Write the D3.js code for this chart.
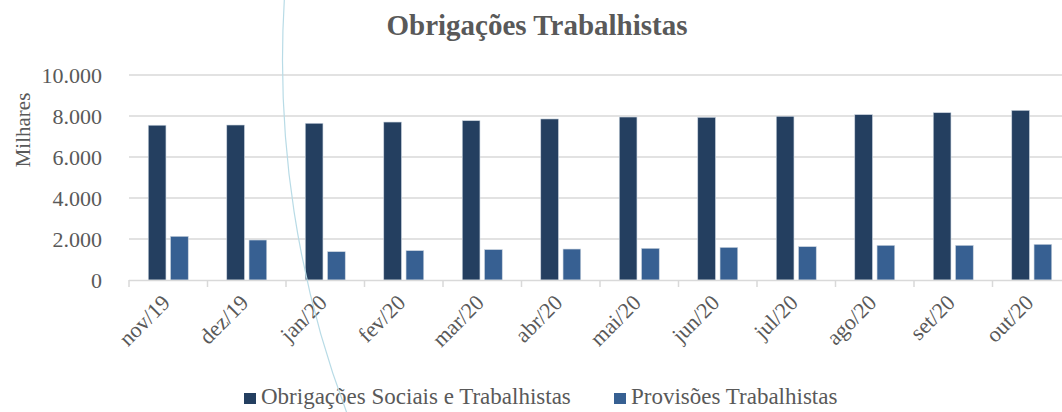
<!DOCTYPE html>
<html>
<head>
<meta charset="utf-8">
<script src="https://cdn.jsdelivr.net/npm/d3@7"></script>
<style>
  html, body { margin: 0; padding: 0; background: #ffffff; }
  svg { display: block; }
  text { font-family: "Liberation Serif", "DejaVu Serif", serif; }
</style>
</head>
<body>
<div id="chart"></div>
<script>
const categories = ["nov/19","dez/19","jan/20","fev/20","mar/20","abr/20","mai/20","jun/20","jul/20","ago/20","set/20","out/20"];
const seriesNames = ["Obrigações Sociais e Trabalhistas", "Provisões Trabalhistas"];
const obrigacoes = [7550, 7560, 7645, 7705, 7770, 7855, 7950, 7935, 7985, 8065, 8160, 8275];
const provisoes  = [2130, 1950, 1380, 1430, 1480, 1510, 1545, 1590, 1625, 1690, 1690, 1740];
const yTicks = [0, 2000, 4000, 6000, 8000, 10000];
const colors = ["#243F60", "#376092"];
const title = "Obrigações Trabalhistas";
const yLabel = "Milhares";

const W = 1062, H = 412;
const svg = d3.select("#chart").append("svg").attr("width", W).attr("height", H);

const x = d3.scaleBand().domain(categories).range([129, 1071]).paddingInner(0).paddingOuter(0);
const xs = d3.scaleBand().domain(seriesNames).range([0, x.bandwidth()]).paddingInner(0.206).paddingOuter(0.865);
const y = d3.scaleLinear().domain([0, 10000]).range([280, 75]);

const fmt = v => v === 0 ? "0" : d3.format(",")(v).replace(/,/g, ".");

// gridlines
svg.append("g").selectAll("line").data(yTicks.filter(d => d > 0)).join("line")
  .attr("x1", 129).attr("x2", W)
  .attr("y1", d => y(d)).attr("y2", d => y(d))
  .attr("stroke", "#D9D9D9").attr("stroke-width", 1.5);

// y tick labels
svg.append("g").selectAll("text").data(yTicks).join("text")
  .attr("x", 102).attr("y", d => y(d) + 7.5)
  .attr("text-anchor", "end").attr("fill", "#595959")
  .attr("font-size", 22).text(fmt);

// bars
const data = categories.map((c, i) => ({c, vals: [obrigacoes[i], provisoes[i]]}));
const groups = svg.append("g").selectAll("g").data(data).join("g")
  .attr("transform", d => `translate(${x(d.c)},0)`);
groups.selectAll("rect").data(d => d.vals.map((v, k) => ({k, v}))).join("rect")
  .attr("x", d => xs(seriesNames[d.k]))
  .attr("width", xs.bandwidth())
  .attr("y", d => y(d.v))
  .attr("height", d => y(0) - y(d.v))
  .attr("fill", d => colors[d.k])
  .attr("stroke", "#c9d3de").attr("stroke-width", 0.6);

// x axis line and ticks
svg.append("line").attr("x1", 129).attr("x2", W).attr("y1", 280.5).attr("y2", 280.5)
  .attr("stroke", "#D9D9D9").attr("stroke-width", 1.5);
svg.append("g").selectAll("line").data(categories).join("line")
  .attr("x1", d => x(d)).attr("x2", d => x(d))
  .attr("y1", 280).attr("y2", 287)
  .attr("stroke", "#D9D9D9").attr("stroke-width", 1.5);

// x labels
svg.append("g").selectAll("text").data(categories).join("text")
  .attr("transform", d => `translate(${x(d) + x.bandwidth()/2 + 3},${304}) rotate(-45)`)
  .attr("text-anchor", "end").attr("fill", "#595959")
  .attr("font-size", 22).text(d => d);

// title
svg.append("text").attr("x", 537).attr("y", 35).attr("text-anchor", "middle")
  .attr("font-size", 29).attr("font-weight", "bold").attr("fill", "#595959").text(title);

// y axis title
svg.append("text").attr("transform", "translate(30,130) rotate(-90)")
  .attr("text-anchor", "middle").attr("font-size", 21).attr("fill", "#595959").text(yLabel);

// legend
const leg = [{x: 244, name: seriesNames[0], c: colors[0]}, {x: 614, name: seriesNames[1], c: colors[1]}];
const lg = svg.append("g").selectAll("g").data(leg).join("g").attr("transform", d => `translate(${d.x},0)`);
lg.append("rect").attr("x", 0).attr("y", 393).attr("width", 12).attr("height", 11).attr("fill", d => d.c);
lg.append("text").attr("x", 17).attr("y", 404).attr("font-size", 23).attr("fill", "#595959").text(d => d.name);

// decorative thin arc present in the reference image
svg.append("path")
  .attr("d", d3.arc()({innerRadius: 1000, outerRadius: 1000, startAngle: -Math.PI/2 + 0.065, endAngle: -Math.PI/2 - 0.37}))
  .attr("transform", "translate(1282.5,60)")
  .attr("fill", "none").attr("stroke", "#b8dbe6").attr("stroke-width", 1.2);
</script>
</body>
</html>
